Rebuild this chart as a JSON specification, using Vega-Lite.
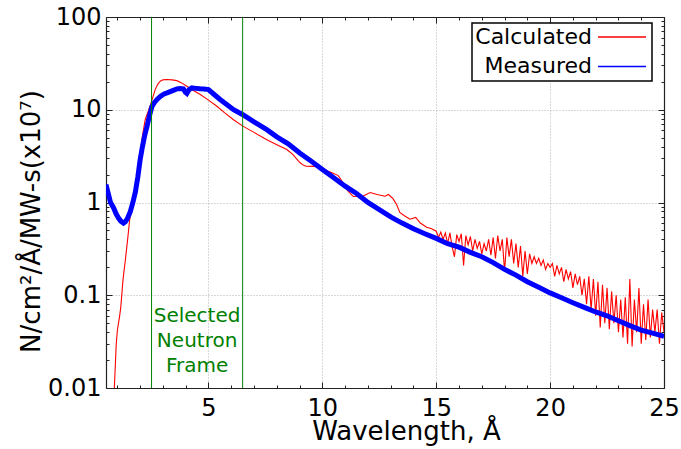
{
  "$schema": "https://vega.github.io/schema/vega-lite/v6.json",
  "width": 558,
  "height": 371,
  "autosize": {"type": "none"},
  "padding": {"left": 106, "top": 17, "right": 17, "bottom": 61},
  "background": "white",
  "config": {
    "font": "DejaVu Sans",
    "view": {"stroke": null},
    "axis": {"labelFont": "DejaVu Sans", "titleFont": "DejaVu Sans", "labelColor": "#000", "titleColor": "#000", "domainColor": "#222", "tickColor": "#222", "domainWidth": 1.2, "tickWidth": 1, "labelFlush": false, "labelOverlap": false, "labelBound": false},
    "legend": {"symbolStrokeWidth": 1.5}
  },
  "datasets": {
    "calc": [
      {"s": "Calculated", "x": 0.85, "y": 0.008},
      {"s": "Calculated", "x": 0.95, "y": 0.03},
      {"s": "Calculated", "x": 1.0, "y": 0.042},
      {"s": "Calculated", "x": 1.1, "y": 0.06},
      {"s": "Calculated", "x": 1.15, "y": 0.075},
      {"s": "Calculated", "x": 1.25, "y": 0.15},
      {"s": "Calculated", "x": 1.35, "y": 0.24},
      {"s": "Calculated", "x": 1.45, "y": 0.4},
      {"s": "Calculated", "x": 1.57, "y": 0.77},
      {"s": "Calculated", "x": 1.7, "y": 1.1},
      {"s": "Calculated", "x": 1.8, "y": 1.5},
      {"s": "Calculated", "x": 1.9, "y": 2.3},
      {"s": "Calculated", "x": 2.0, "y": 3.4},
      {"s": "Calculated", "x": 2.1, "y": 5.2},
      {"s": "Calculated", "x": 2.22, "y": 7.8},
      {"s": "Calculated", "x": 2.35, "y": 9.6},
      {"s": "Calculated", "x": 2.45, "y": 11.2},
      {"s": "Calculated", "x": 2.55, "y": 13.5},
      {"s": "Calculated", "x": 2.66, "y": 16.5},
      {"s": "Calculated", "x": 2.77, "y": 18.8},
      {"s": "Calculated", "x": 2.88, "y": 20.3},
      {"s": "Calculated", "x": 3.0, "y": 21.0},
      {"s": "Calculated", "x": 3.17, "y": 21.2},
      {"s": "Calculated", "x": 3.4, "y": 21.0},
      {"s": "Calculated", "x": 3.61, "y": 20.6},
      {"s": "Calculated", "x": 3.8, "y": 19.6},
      {"s": "Calculated", "x": 4.05, "y": 17.9},
      {"s": "Calculated", "x": 4.3, "y": 16.3},
      {"s": "Calculated", "x": 4.64, "y": 14.6},
      {"s": "Calculated", "x": 5.0, "y": 12.7},
      {"s": "Calculated", "x": 5.37, "y": 10.9},
      {"s": "Calculated", "x": 5.7, "y": 9.3},
      {"s": "Calculated", "x": 6.1, "y": 7.8},
      {"s": "Calculated", "x": 6.49, "y": 6.7},
      {"s": "Calculated", "x": 7.0, "y": 5.7},
      {"s": "Calculated", "x": 7.56, "y": 4.76},
      {"s": "Calculated", "x": 8.0, "y": 4.2},
      {"s": "Calculated", "x": 8.44, "y": 3.72},
      {"s": "Calculated", "x": 8.7, "y": 3.3},
      {"s": "Calculated", "x": 9.02, "y": 2.68},
      {"s": "Calculated", "x": 9.2, "y": 2.5},
      {"s": "Calculated", "x": 9.3, "y": 2.46},
      {"s": "Calculated", "x": 9.6, "y": 2.45},
      {"s": "Calculated", "x": 9.9, "y": 2.42},
      {"s": "Calculated", "x": 10.0, "y": 2.3},
      {"s": "Calculated", "x": 10.4, "y": 2.1},
      {"s": "Calculated", "x": 10.7, "y": 1.95},
      {"s": "Calculated", "x": 10.9, "y": 1.64},
      {"s": "Calculated", "x": 11.1, "y": 1.35},
      {"s": "Calculated", "x": 11.36, "y": 1.16},
      {"s": "Calculated", "x": 11.75, "y": 1.16},
      {"s": "Calculated", "x": 12.1, "y": 1.28},
      {"s": "Calculated", "x": 12.4, "y": 1.22},
      {"s": "Calculated", "x": 12.75, "y": 1.17},
      {"s": "Calculated", "x": 12.9, "y": 1.22},
      {"s": "Calculated", "x": 13.1, "y": 1.1},
      {"s": "Calculated", "x": 13.26, "y": 0.95},
      {"s": "Calculated", "x": 13.4, "y": 0.78},
      {"s": "Calculated", "x": 13.6, "y": 0.72},
      {"s": "Calculated", "x": 13.85, "y": 0.66},
      {"s": "Calculated", "x": 14.1, "y": 0.69},
      {"s": "Calculated", "x": 14.3, "y": 0.6},
      {"s": "Calculated", "x": 14.58, "y": 0.54},
      {"s": "Calculated", "x": 14.8, "y": 0.52},
      {"s": "Calculated", "x": 15.0, "y": 0.49},
      {"s": "Calculated", "x": 15.1, "y": 0.42},
      {"s": "Calculated", "x": 15.2, "y": 0.48},
      {"s": "Calculated", "x": 15.3, "y": 0.4},
      {"s": "Calculated", "x": 15.4, "y": 0.47},
      {"s": "Calculated", "x": 15.5, "y": 0.36},
      {"s": "Calculated", "x": 15.6, "y": 0.47},
      {"s": "Calculated", "x": 15.7, "y": 0.33},
      {"s": "Calculated", "x": 15.8, "y": 0.26},
      {"s": "Calculated", "x": 15.9, "y": 0.45},
      {"s": "Calculated", "x": 16.0, "y": 0.38},
      {"s": "Calculated", "x": 16.1, "y": 0.46},
      {"s": "Calculated", "x": 16.2, "y": 0.21},
      {"s": "Calculated", "x": 16.3, "y": 0.44},
      {"s": "Calculated", "x": 16.4, "y": 0.35},
      {"s": "Calculated", "x": 16.5, "y": 0.43},
      {"s": "Calculated", "x": 16.6, "y": 0.3},
      {"s": "Calculated", "x": 16.7, "y": 0.4},
      {"s": "Calculated", "x": 16.8, "y": 0.32},
      {"s": "Calculated", "x": 16.9, "y": 0.38},
      {"s": "Calculated", "x": 17.0, "y": 0.28},
      {"s": "Calculated", "x": 17.1, "y": 0.36},
      {"s": "Calculated", "x": 17.2, "y": 0.3},
      {"s": "Calculated", "x": 17.3, "y": 0.4},
      {"s": "Calculated", "x": 17.4, "y": 0.27},
      {"s": "Calculated", "x": 17.5, "y": 0.42},
      {"s": "Calculated", "x": 17.6, "y": 0.25},
      {"s": "Calculated", "x": 17.7, "y": 0.44},
      {"s": "Calculated", "x": 17.8, "y": 0.3},
      {"s": "Calculated", "x": 17.9, "y": 0.4},
      {"s": "Calculated", "x": 18.0, "y": 0.18},
      {"s": "Calculated", "x": 18.1, "y": 0.42},
      {"s": "Calculated", "x": 18.2, "y": 0.26},
      {"s": "Calculated", "x": 18.3, "y": 0.4},
      {"s": "Calculated", "x": 18.4, "y": 0.22},
      {"s": "Calculated", "x": 18.5, "y": 0.36},
      {"s": "Calculated", "x": 18.6, "y": 0.2},
      {"s": "Calculated", "x": 18.7, "y": 0.34},
      {"s": "Calculated", "x": 18.8, "y": 0.16},
      {"s": "Calculated", "x": 18.9, "y": 0.3},
      {"s": "Calculated", "x": 19.0, "y": 0.17},
      {"s": "Calculated", "x": 19.1, "y": 0.28},
      {"s": "Calculated", "x": 19.2, "y": 0.22},
      {"s": "Calculated", "x": 19.3, "y": 0.26},
      {"s": "Calculated", "x": 19.4, "y": 0.22},
      {"s": "Calculated", "x": 19.5, "y": 0.25},
      {"s": "Calculated", "x": 19.6, "y": 0.21},
      {"s": "Calculated", "x": 19.7, "y": 0.24},
      {"s": "Calculated", "x": 19.8, "y": 0.19},
      {"s": "Calculated", "x": 19.9, "y": 0.22},
      {"s": "Calculated", "x": 20.0, "y": 0.2},
      {"s": "Calculated", "x": 20.1, "y": 0.22},
      {"s": "Calculated", "x": 20.2, "y": 0.16},
      {"s": "Calculated", "x": 20.3, "y": 0.21},
      {"s": "Calculated", "x": 20.4, "y": 0.17},
      {"s": "Calculated", "x": 20.5, "y": 0.2},
      {"s": "Calculated", "x": 20.6, "y": 0.14},
      {"s": "Calculated", "x": 20.7, "y": 0.19},
      {"s": "Calculated", "x": 20.8, "y": 0.15},
      {"s": "Calculated", "x": 20.9, "y": 0.18},
      {"s": "Calculated", "x": 21.0, "y": 0.12},
      {"s": "Calculated", "x": 21.1, "y": 0.17},
      {"s": "Calculated", "x": 21.2, "y": 0.13},
      {"s": "Calculated", "x": 21.3, "y": 0.16},
      {"s": "Calculated", "x": 21.4, "y": 0.1},
      {"s": "Calculated", "x": 21.5, "y": 0.15},
      {"s": "Calculated", "x": 21.6, "y": 0.08},
      {"s": "Calculated", "x": 21.7, "y": 0.16},
      {"s": "Calculated", "x": 21.8, "y": 0.07},
      {"s": "Calculated", "x": 21.9, "y": 0.15},
      {"s": "Calculated", "x": 22.0, "y": 0.06},
      {"s": "Calculated", "x": 22.1, "y": 0.14},
      {"s": "Calculated", "x": 22.2, "y": 0.045},
      {"s": "Calculated", "x": 22.3, "y": 0.13},
      {"s": "Calculated", "x": 22.4, "y": 0.05},
      {"s": "Calculated", "x": 22.5, "y": 0.12},
      {"s": "Calculated", "x": 22.6, "y": 0.043},
      {"s": "Calculated", "x": 22.7, "y": 0.11},
      {"s": "Calculated", "x": 22.8, "y": 0.05},
      {"s": "Calculated", "x": 22.9, "y": 0.1},
      {"s": "Calculated", "x": 23.0, "y": 0.04},
      {"s": "Calculated", "x": 23.1, "y": 0.09},
      {"s": "Calculated", "x": 23.2, "y": 0.035},
      {"s": "Calculated", "x": 23.3, "y": 0.095},
      {"s": "Calculated", "x": 23.4, "y": 0.03},
      {"s": "Calculated", "x": 23.5, "y": 0.15},
      {"s": "Calculated", "x": 23.6, "y": 0.028},
      {"s": "Calculated", "x": 23.7, "y": 0.09},
      {"s": "Calculated", "x": 23.8, "y": 0.04},
      {"s": "Calculated", "x": 23.9, "y": 0.12},
      {"s": "Calculated", "x": 24.0, "y": 0.03},
      {"s": "Calculated", "x": 24.1, "y": 0.08},
      {"s": "Calculated", "x": 24.2, "y": 0.033},
      {"s": "Calculated", "x": 24.3, "y": 0.09},
      {"s": "Calculated", "x": 24.4, "y": 0.035},
      {"s": "Calculated", "x": 24.5, "y": 0.07},
      {"s": "Calculated", "x": 24.6, "y": 0.04},
      {"s": "Calculated", "x": 24.7, "y": 0.07},
      {"s": "Calculated", "x": 24.8, "y": 0.03},
      {"s": "Calculated", "x": 24.9, "y": 0.065},
      {"s": "Calculated", "x": 25.0, "y": 0.04}
    ],
    "meas": [
      {"s": "Measured", "x": 0.5, "y": 1.56},
      {"s": "Measured", "x": 0.6, "y": 1.25},
      {"s": "Measured", "x": 0.7, "y": 1.0},
      {"s": "Measured", "x": 0.83, "y": 0.88},
      {"s": "Measured", "x": 0.95, "y": 0.75},
      {"s": "Measured", "x": 1.05, "y": 0.68},
      {"s": "Measured", "x": 1.15, "y": 0.63},
      {"s": "Measured", "x": 1.27, "y": 0.6},
      {"s": "Measured", "x": 1.35, "y": 0.62},
      {"s": "Measured", "x": 1.45, "y": 0.68},
      {"s": "Measured", "x": 1.57, "y": 0.8},
      {"s": "Measured", "x": 1.68, "y": 1.0},
      {"s": "Measured", "x": 1.79, "y": 1.3},
      {"s": "Measured", "x": 1.9, "y": 1.9},
      {"s": "Measured", "x": 2.0, "y": 2.9},
      {"s": "Measured", "x": 2.1, "y": 4.0},
      {"s": "Measured", "x": 2.2, "y": 5.3},
      {"s": "Measured", "x": 2.3, "y": 6.6},
      {"s": "Measured", "x": 2.4, "y": 8.5},
      {"s": "Measured", "x": 2.52, "y": 10.9},
      {"s": "Measured", "x": 2.63, "y": 12.0},
      {"s": "Measured", "x": 2.74, "y": 12.9},
      {"s": "Measured", "x": 2.9, "y": 14.0},
      {"s": "Measured", "x": 3.05, "y": 14.8},
      {"s": "Measured", "x": 3.18, "y": 15.2},
      {"s": "Measured", "x": 3.4, "y": 16.0},
      {"s": "Measured", "x": 3.61, "y": 16.8},
      {"s": "Measured", "x": 3.75, "y": 16.9},
      {"s": "Measured", "x": 3.9, "y": 16.8},
      {"s": "Measured", "x": 3.98, "y": 15.5},
      {"s": "Measured", "x": 4.05, "y": 15.0},
      {"s": "Measured", "x": 4.15, "y": 16.5},
      {"s": "Measured", "x": 4.27, "y": 17.2},
      {"s": "Measured", "x": 4.45, "y": 17.0},
      {"s": "Measured", "x": 4.64, "y": 16.8},
      {"s": "Measured", "x": 4.8, "y": 16.7},
      {"s": "Measured", "x": 5.0, "y": 16.5},
      {"s": "Measured", "x": 5.25, "y": 14.6},
      {"s": "Measured", "x": 5.51, "y": 12.9},
      {"s": "Measured", "x": 5.8, "y": 11.4},
      {"s": "Measured", "x": 6.1, "y": 10.0},
      {"s": "Measured", "x": 6.49, "y": 8.9},
      {"s": "Measured", "x": 7.0, "y": 7.4},
      {"s": "Measured", "x": 7.56, "y": 6.1},
      {"s": "Measured", "x": 8.0, "y": 5.1},
      {"s": "Measured", "x": 8.5, "y": 4.3},
      {"s": "Measured", "x": 9.02, "y": 3.4},
      {"s": "Measured", "x": 9.5, "y": 2.8},
      {"s": "Measured", "x": 10.0, "y": 2.27},
      {"s": "Measured", "x": 10.5, "y": 1.85},
      {"s": "Measured", "x": 11.0, "y": 1.5},
      {"s": "Measured", "x": 11.5, "y": 1.25},
      {"s": "Measured", "x": 12.0, "y": 1.0},
      {"s": "Measured", "x": 12.5, "y": 0.84},
      {"s": "Measured", "x": 13.0, "y": 0.7},
      {"s": "Measured", "x": 13.5, "y": 0.6},
      {"s": "Measured", "x": 14.0, "y": 0.52},
      {"s": "Measured", "x": 14.5, "y": 0.46},
      {"s": "Measured", "x": 15.0, "y": 0.41},
      {"s": "Measured", "x": 15.5, "y": 0.36},
      {"s": "Measured", "x": 16.0, "y": 0.33},
      {"s": "Measured", "x": 16.5, "y": 0.29},
      {"s": "Measured", "x": 17.0, "y": 0.26},
      {"s": "Measured", "x": 17.5, "y": 0.225},
      {"s": "Measured", "x": 18.0, "y": 0.19},
      {"s": "Measured", "x": 18.5, "y": 0.165},
      {"s": "Measured", "x": 19.0, "y": 0.14},
      {"s": "Measured", "x": 19.5, "y": 0.122},
      {"s": "Measured", "x": 20.0, "y": 0.106},
      {"s": "Measured", "x": 20.5, "y": 0.094},
      {"s": "Measured", "x": 21.0, "y": 0.083},
      {"s": "Measured", "x": 21.5, "y": 0.074},
      {"s": "Measured", "x": 22.0, "y": 0.066},
      {"s": "Measured", "x": 22.5, "y": 0.06},
      {"s": "Measured", "x": 23.0, "y": 0.053},
      {"s": "Measured", "x": 23.5, "y": 0.047},
      {"s": "Measured", "x": 24.0, "y": 0.042},
      {"s": "Measured", "x": 24.5, "y": 0.039},
      {"s": "Measured", "x": 25.0, "y": 0.036}
    ],
    "frame": [{"x": 2.5}, {"x": 6.5}]
  },
  "layer": [
    {
      "data": {"name": "calc"},
      "mark": {"type": "line", "clip": true, "strokeWidth": 1.1},
      "encoding": {
        "x": {
          "field": "x", "type": "quantitative",
          "scale": {"domain": [0.5, 25], "nice": false, "zero": false},
          "axis": {
            "orient": "bottom", "values": [5, 10, 15, 20, 25], "tickSize": -6,
            "grid": true, "gridDash": [1, 2], "gridColor": "#b0b0b0", "gridWidth": 1,
            "labelPadding": 14, "labelFontSize": 24,
            "title": "Wavelength, Å", "titleFontSize": 26, "titleFontWeight": "normal",
            "titleX": 300, "titleY": 51, "titleBaseline": "alphabetic", "titleAlign": "center"
          }
        },
        "y": {
          "field": "y", "type": "quantitative",
          "scale": {"type": "log", "domain": [0.01, 100], "nice": false},
          "axis": {
            "orient": "left", "values": [0.01, 0.1, 1, 10, 100], "tickSize": -6,
            "labelExpr": "'' + datum.value",
            "grid": true, "gridDash": [1, 2], "gridColor": "#b0b0b0", "gridWidth": 1,
            "labelPadding": 11, "labelFontSize": 24,
            "title": "N/cm²/Å/MW-s(x10⁷)", "titleFontSize": 26, "titleFontWeight": "normal",
            "titleX": -67, "titleY": 204, "titleBaseline": "alphabetic", "titleAlign": "center", "titleAngle": -90
          }
        },
        "color": {
          "field": "s", "type": "nominal",
          "scale": {"domain": ["Calculated", "Measured"], "range": ["#ff0000", "#0000ff"]},
          "legend": {
            "title": null, "orient": "none", "legendX": 366, "legendY": 6,
            "symbolType": "stroke", "symbolSize": 2304, "symbolStrokeWidth": 1.5,
            "labelFontSize": 22, "labelFont": "DejaVu Sans", "labelColor": "#000",
            "rowPadding": 7.4, "padding": 3,
            "strokeColor": "#000", "fillColor": "#fff",
            "encode": {
              "legend": {"update": {"strokeWidth": {"value": 1.5}}},
              "labels": {"update": {"align": {"value": "right"}, "baseline": {"value": "middle"}, "x": {"value": 117}, "y": {"value": 11}}},
              "symbols": {"update": {"x": {"value": 147}, "y": {"value": 11}, "strokeWidth": {"value": 1.5}}}
            }
          }
        }
      }
    },
    {
      "data": {"name": "meas"},
      "mark": {"type": "line", "clip": true, "strokeWidth": 5},
      "encoding": {
        "x": {
          "field": "x", "type": "quantitative",
          "axis": {"orient": "bottom", "values": [1,2,3,4,6,7,8,9,11,12,13,14,16,17,18,19,21,22,23,24], "tickSize": -3, "labels": false, "domain": false, "grid": false, "title": null}
        },
        "y": {
          "field": "y", "type": "quantitative",
          "axis": {"orient": "left", "values": [0.02,0.03,0.04,0.05,0.06,0.07,0.08,0.09,0.2,0.3,0.4,0.5,0.6,0.7,0.8,0.9,2,3,4,5,6,7,8,9,20,30,40,50,60,70,80,90], "tickSize": -3, "labels": false, "domain": false, "grid": false, "title": null}
        },
        "color": {"field": "s", "type": "nominal"}
      }
    },
    {
      "data": {"name": "frame"},
      "mark": {"type": "rule", "color": "#008000", "strokeWidth": 1},
      "encoding": {
        "x": {
          "field": "x", "type": "quantitative",
          "axis": {"orient": "top", "values": [5, 10, 15, 20, 25], "tickSize": -6, "labels": false, "grid": false, "title": null}
        }
      }
    },
    {
      "data": {"values": [{"label": "Selected Neutron Frame"}]},
      "mark": {"type": "text", "text": ["Selected", "Neutron", "Frame"], "color": "#008000", "font": "DejaVu Sans", "fontSize": 20, "align": "center", "baseline": "alphabetic", "lineHeight": 25},
      "encoding": {
        "x": {
          "datum": 4.5, "type": "quantitative",
          "axis": {"orient": "top", "values": [1,2,3,4,6,7,8,9,11,12,13,14,16,17,18,19,21,22,23,24], "tickSize": -3, "labels": false, "domain": false, "grid": false, "title": null}
        },
        "y": {
          "datum": 0.051, "type": "quantitative",
          "axis": {"orient": "right", "values": [0.01, 0.1, 1, 10, 100], "tickSize": -6, "labels": false, "grid": false, "title": null}
        }
      }
    },
    {
      "data": {"values": [{"label": ""}]},
      "mark": {"type": "text", "text": "", "opacity": 0},
      "encoding": {
        "x": {"datum": 4.5, "type": "quantitative", "axis": null},
        "y": {
          "datum": 0.051, "type": "quantitative",
          "axis": {"orient": "right", "values": [0.02,0.03,0.04,0.05,0.06,0.07,0.08,0.09,0.2,0.3,0.4,0.5,0.6,0.7,0.8,0.9,2,3,4,5,6,7,8,9,20,30,40,50,60,70,80,90], "tickSize": -3, "labels": false, "domain": false, "grid": false, "title": null}
        }
      }
    }
  ],
  "resolve": {"axis": {"x": "independent", "y": "independent"}}
}
